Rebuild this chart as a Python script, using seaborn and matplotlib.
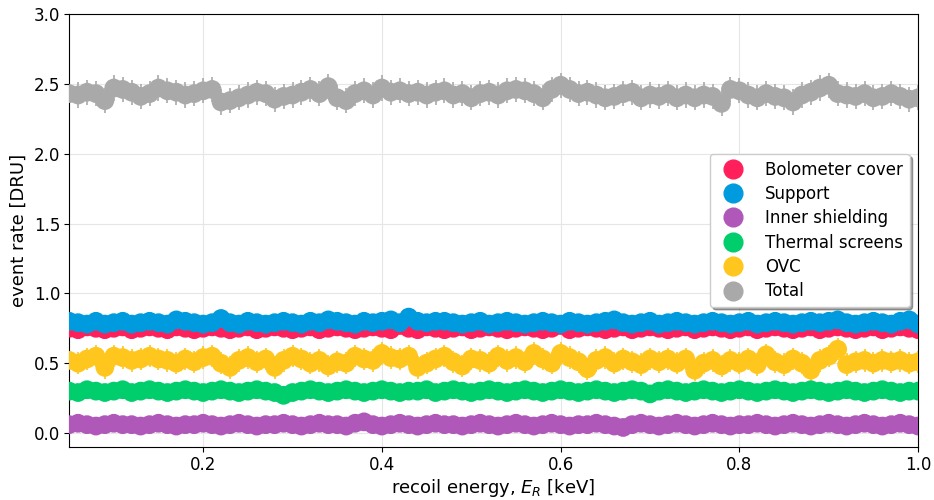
import numpy as np
import pandas as pd
import matplotlib
matplotlib.use("Agg")
import matplotlib.pyplot as plt
from matplotlib.lines import Line2D
import seaborn as sns

# energy grid [keV]
energy = np.round(np.arange(0.05, 1.001, 0.01), 2)

bolometer_cover = [
    0.75, 0.74, 0.76, 0.75, 0.74, 0.75, 0.76, 0.74, 0.75, 0.76,
    0.75, 0.74, 0.76, 0.75, 0.74, 0.75, 0.76, 0.75, 0.74, 0.75,
    0.76, 0.74, 0.75, 0.76, 0.75, 0.74, 0.75, 0.76, 0.74, 0.75,
    0.76, 0.75, 0.74, 0.75, 0.76, 0.75, 0.74, 0.77, 0.75, 0.74,
    0.76, 0.75, 0.74, 0.75, 0.76, 0.74, 0.75, 0.76, 0.75, 0.74,
    0.75, 0.76, 0.75, 0.74, 0.75, 0.77, 0.74, 0.75, 0.76, 0.75,
    0.74, 0.75, 0.76, 0.74, 0.75, 0.76, 0.75, 0.74, 0.75, 0.76,
    0.74, 0.75, 0.76, 0.75, 0.74, 0.75, 0.76, 0.74, 0.75, 0.76,
    0.75, 0.74, 0.75, 0.76, 0.74, 0.75, 0.76, 0.75, 0.74, 0.75,
    0.76, 0.74, 0.75, 0.76, 0.75, 0.74]
support = [
    0.80, 0.79, 0.78, 0.80, 0.78, 0.79, 0.80, 0.78, 0.79, 0.80,
    0.79, 0.78, 0.81, 0.80, 0.79, 0.78, 0.79, 0.82, 0.79, 0.78,
    0.80, 0.79, 0.78, 0.79, 0.80, 0.79, 0.78, 0.80, 0.79, 0.81,
    0.80, 0.79, 0.78, 0.80, 0.79, 0.80, 0.81, 0.79, 0.83, 0.80,
    0.79, 0.80, 0.80, 0.79, 0.78, 0.79, 0.80, 0.78, 0.79, 0.80,
    0.79, 0.78, 0.79, 0.80, 0.79, 0.78, 0.80, 0.79, 0.78, 0.79,
    0.80, 0.81, 0.79, 0.78, 0.79, 0.80, 0.78, 0.79, 0.80, 0.79,
    0.78, 0.79, 0.80, 0.79, 0.78, 0.79, 0.80, 0.78, 0.79, 0.80,
    0.79, 0.78, 0.79, 0.80, 0.79, 0.80, 0.81, 0.79, 0.78, 0.79,
    0.80, 0.79, 0.78, 0.80, 0.81, 0.78]
inner_shielding = [
    0.06, 0.07, 0.06, 0.05, 0.06, 0.07, 0.06, 0.06, 0.05, 0.06,
    0.07, 0.06, 0.05, 0.06, 0.06, 0.07, 0.06, 0.05, 0.06, 0.07,
    0.06, 0.05, 0.06, 0.06, 0.07, 0.06, 0.05, 0.06, 0.07, 0.06,
    0.06, 0.05, 0.07, 0.08, 0.06, 0.05, 0.06, 0.07, 0.06, 0.05,
    0.06, 0.07, 0.06, 0.06, 0.05, 0.06, 0.07, 0.06, 0.05, 0.06,
    0.07, 0.06, 0.05, 0.06, 0.07, 0.06, 0.05, 0.06, 0.06, 0.07,
    0.06, 0.05, 0.04, 0.06, 0.07, 0.06, 0.05, 0.06, 0.07, 0.06,
    0.05, 0.06, 0.07, 0.06, 0.05, 0.06, 0.06, 0.07, 0.06, 0.05,
    0.06, 0.07, 0.06, 0.05, 0.06, 0.07, 0.06, 0.05, 0.06, 0.07,
    0.06, 0.05, 0.06, 0.07, 0.06, 0.05]
thermal_screens = [
    0.30, 0.29, 0.31, 0.30, 0.29, 0.30, 0.31, 0.29, 0.30, 0.31,
    0.30, 0.29, 0.30, 0.31, 0.30, 0.29, 0.30, 0.31, 0.30, 0.29,
    0.30, 0.31, 0.30, 0.29, 0.27, 0.29, 0.30, 0.31, 0.30, 0.29,
    0.30, 0.31, 0.30, 0.29, 0.30, 0.31, 0.30, 0.29, 0.30, 0.30,
    0.31, 0.29, 0.30, 0.31, 0.30, 0.29, 0.30, 0.31, 0.30, 0.29,
    0.30, 0.31, 0.30, 0.29, 0.30, 0.31, 0.30, 0.29, 0.30, 0.31,
    0.30, 0.29, 0.30, 0.31, 0.30, 0.28, 0.30, 0.31, 0.30, 0.29,
    0.30, 0.31, 0.30, 0.29, 0.30, 0.31, 0.30, 0.29, 0.30, 0.31,
    0.30, 0.29, 0.30, 0.31, 0.30, 0.29, 0.30, 0.31, 0.30, 0.29,
    0.30, 0.31, 0.30, 0.29, 0.30, 0.30]
ovc = [
    0.52, 0.50, 0.53, 0.55, 0.47, 0.55, 0.54, 0.52, 0.53, 0.55,
    0.53, 0.52, 0.50, 0.53, 0.51, 0.54, 0.55, 0.50, 0.47, 0.52,
    0.54, 0.51, 0.53, 0.47, 0.52, 0.55, 0.53, 0.50, 0.52, 0.48,
    0.51, 0.50, 0.55, 0.53, 0.52, 0.57, 0.54, 0.53, 0.55, 0.47,
    0.50, 0.53, 0.55, 0.51, 0.48, 0.53, 0.52, 0.50, 0.55, 0.52,
    0.54, 0.51, 0.57, 0.53, 0.50, 0.57, 0.54, 0.51, 0.46, 0.52,
    0.54, 0.50, 0.53, 0.51, 0.49, 0.53, 0.51, 0.53, 0.50, 0.53,
    0.45, 0.50, 0.52, 0.48, 0.52, 0.50, 0.53, 0.49, 0.56, 0.51,
    0.49, 0.53, 0.50, 0.45, 0.52, 0.55, 0.60, 0.49, 0.51, 0.52,
    0.50, 0.52, 0.51, 0.52, 0.50, 0.51]
total = [
    2.43, 2.42, 2.44, 2.43, 2.38, 2.47, 2.46, 2.44, 2.41, 2.43,
    2.47, 2.45, 2.44, 2.42, 2.43, 2.45, 2.46, 2.37, 2.38, 2.40,
    2.42, 2.44, 2.43, 2.39, 2.41, 2.42, 2.44, 2.46, 2.43, 2.48,
    2.40, 2.38, 2.43, 2.45, 2.42, 2.47, 2.44, 2.45, 2.43, 2.44,
    2.42, 2.44, 2.45, 2.42, 2.43, 2.40, 2.43, 2.44, 2.42, 2.45,
    2.46, 2.45, 2.43, 2.40, 2.46, 2.49, 2.46, 2.43, 2.44, 2.42,
    2.40, 2.41, 2.43, 2.44, 2.40, 2.42, 2.41, 2.43, 2.40, 2.42,
    2.40, 2.42, 2.41, 2.36, 2.46, 2.45, 2.42, 2.40, 2.43, 2.41,
    2.40, 2.37, 2.42, 2.44, 2.47, 2.49, 2.43, 2.42, 2.41, 2.43,
    2.40, 2.41, 2.43, 2.41, 2.39, 2.40]

labels = ["Bolometer cover", "Support", "Inner shielding",
          "Thermal screens", "OVC", "Total"]
series = [bolometer_cover, support, inner_shielding, thermal_screens, ovc, total]
errors = [0.04, 0.04, 0.04, 0.04, 0.08, 0.09]
colors = ["#FF1F5B", "#009ADE", "#AF58BA", "#00CD6C", "#FFC61E", "#A9A9A9"]

df = pd.DataFrame({
    "energy": np.tile(energy, len(labels)),
    "rate": np.concatenate(series),
    "source": np.repeat(labels, len(energy)),
})

sns.set_style("ticks")
plt.rcParams["font.family"] = ["DejaVu Sans"]
plt.rcParams.update({"text.color": "black", "axes.labelcolor": "black",
                     "xtick.color": "black", "ytick.color": "black",
                     "axes.edgecolor": "black"})

fig, ax = plt.subplots(figsize=(9.34, 5.0), dpi=100)
ms = 13.5
for lab, vals, err, col in zip(labels, series, errors, colors):
    ax.errorbar(energy, vals, yerr=err, fmt="none", ecolor=col, elinewidth=1.2)
sns.scatterplot(data=df, x="energy", y="rate", hue="source", hue_order=labels,
                palette=colors, s=ms ** 2, linewidth=0, alpha=1, ax=ax,
                legend=False, zorder=3)

handles = [Line2D([], [], marker="o", ls="none", color=c, markersize=ms)
           for c in colors]
leg = ax.legend(handles, labels, loc="center right", fontsize=12,
                shadow=True, framealpha=1, handletextpad=0.9, borderpad=0.4,
                labelspacing=0.38)

ax.set_xlim(0.05, 1.0)
ax.set_ylim(-0.1, 3.0)
ax.set_yticks(np.arange(0, 3.01, 0.5))
ax.grid(True, color="#e6e6e6", lw=0.8)
ax.set_axisbelow(True)
ax.tick_params(labelsize=12, color="black", pad=3)
ax.set_xlabel("recoil energy, $E_R$ [keV]", fontsize=13, labelpad=2)
ax.set_ylabel("event rate [DRU]", fontsize=13, labelpad=4)

fig.subplots_adjust(left=0.074, right=0.983, top=0.972, bottom=0.106)
fig.savefig("out.png", dpi=100, facecolor="white")
